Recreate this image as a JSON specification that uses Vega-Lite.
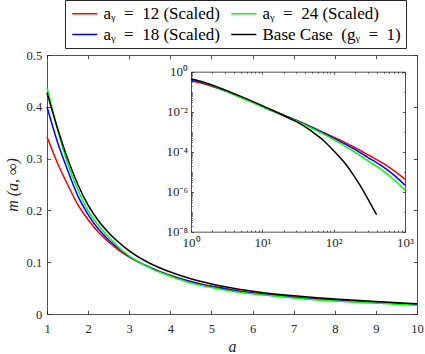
{
  "$schema": "https://vega.github.io/schema/vega-lite/v6.json",
  "width": 370,
  "height": 259,
  "autosize": {"type": "none"},
  "padding": {"left": 47, "top": 55, "right": 8, "bottom": 40},
  "config": {
    "view": {"stroke": null},
    "font": "Liberation Serif",
    "axis": {"grid": false, "domainColor": "#262626", "domainWidth": 0.8, "tickColor": "#262626", "tickWidth": 0.8, "labelColor": "#262626", "titleColor": "#262626", "labelFont": "Liberation Serif", "titleFont": "Liberation Serif", "titleFontWeight": "normal", "labelFlush": false, "labelOverlap": false}
  },
  "datasets": {
    "main": [
      {"a":1,"m":0.342,"s":"g12"},{"a":1.25,"m":0.292,"s":"g12"},{"a":1.5,"m":0.250,"s":"g12"},{"a":1.75,"m":0.211,"s":"g12"},{"a":2,"m":0.182,"s":"g12"},{"a":2.25,"m":0.158,"s":"g12"},{"a":2.5,"m":0.139,"s":"g12"},{"a":2.75,"m":0.123,"s":"g12"},{"a":3,"m":0.110,"s":"g12"},{"a":3.5,"m":0.090,"s":"g12"},{"a":4,"m":0.075,"s":"g12"},{"a":4.5,"m":0.063,"s":"g12"},{"a":5,"m":0.054,"s":"g12"},{"a":5.5,"m":0.047,"s":"g12"},{"a":6,"m":0.041,"s":"g12"},{"a":7,"m":0.033,"s":"g12"},{"a":8,"m":0.027,"s":"g12"},{"a":9,"m":0.022,"s":"g12"},{"a":10,"m":0.018,"s":"g12"},
      {"a":1,"m":0.400,"s":"g18"},{"a":1.25,"m":0.333,"s":"g18"},{"a":1.5,"m":0.278,"s":"g18"},{"a":1.75,"m":0.228,"s":"g18"},{"a":2,"m":0.192,"s":"g18"},{"a":2.25,"m":0.164,"s":"g18"},{"a":2.5,"m":0.143,"s":"g18"},{"a":2.75,"m":0.126,"s":"g18"},{"a":3,"m":0.111,"s":"g18"},{"a":3.5,"m":0.090,"s":"g18"},{"a":4,"m":0.074,"s":"g18"},{"a":4.5,"m":0.062,"s":"g18"},{"a":5,"m":0.053,"s":"g18"},{"a":5.5,"m":0.046,"s":"g18"},{"a":6,"m":0.040,"s":"g18"},{"a":7,"m":0.032,"s":"g18"},{"a":8,"m":0.026,"s":"g18"},{"a":9,"m":0.022,"s":"g18"},{"a":10,"m":0.018,"s":"g18"},
      {"a":1,"m":0.437,"s":"g24"},{"a":1.25,"m":0.358,"s":"g24"},{"a":1.5,"m":0.291,"s":"g24"},{"a":1.75,"m":0.240,"s":"g24"},{"a":2,"m":0.199,"s":"g24"},{"a":2.25,"m":0.171,"s":"g24"},{"a":2.5,"m":0.148,"s":"g24"},{"a":2.75,"m":0.128,"s":"g24"},{"a":3,"m":0.112,"s":"g24"},{"a":3.5,"m":0.089,"s":"g24"},{"a":4,"m":0.073,"s":"g24"},{"a":4.5,"m":0.060,"s":"g24"},{"a":5,"m":0.051,"s":"g24"},{"a":5.5,"m":0.044,"s":"g24"},{"a":6,"m":0.039,"s":"g24"},{"a":7,"m":0.031,"s":"g24"},{"a":8,"m":0.025,"s":"g24"},{"a":9,"m":0.021,"s":"g24"},{"a":10,"m":0.017,"s":"g24"},
      {"a":1,"m":0.427,"s":"base"},{"a":1.25,"m":0.360,"s":"base"},{"a":1.5,"m":0.300,"s":"base"},{"a":1.75,"m":0.250,"s":"base"},{"a":2,"m":0.210,"s":"base"},{"a":2.25,"m":0.180,"s":"base"},{"a":2.5,"m":0.157,"s":"base"},{"a":2.75,"m":0.138,"s":"base"},{"a":3,"m":0.122,"s":"base"},{"a":3.5,"m":0.098,"s":"base"},{"a":4,"m":0.081,"s":"base"},{"a":4.5,"m":0.068,"s":"base"},{"a":5,"m":0.058,"s":"base"},{"a":5.5,"m":0.050,"s":"base"},{"a":6,"m":0.044,"s":"base"},{"a":7,"m":0.035,"s":"base"},{"a":8,"m":0.029,"s":"base"},{"a":9,"m":0.024,"s":"base"},{"a":10,"m":0.020,"s":"base"}
    ],
    "inset": [
      {"a":1,"m":0.342,"s":"g12"},{"a":1.5,"m":0.250,"s":"g12"},{"a":2,"m":0.182,"s":"g12"},{"a":3,"m":0.110,"s":"g12"},{"a":5,"m":0.054,"s":"g12"},{"a":7,"m":0.033,"s":"g12"},{"a":10,"m":0.018,"s":"g12"},{"a":15,"m":0.0102,"s":"g12"},{"a":20,"m":0.00676,"s":"g12"},{"a":30,"m":0.00372,"s":"g12"},{"a":50,"m":0.00166,"s":"g12"},{"a":70,"m":0.000955,"s":"g12"},{"a":100,"m":0.000537,"s":"g12"},{"a":150,"m":0.000269,"s":"g12"},{"a":200,"m":0.000158,"s":"g12"},{"a":300,"m":0.0000708,"s":"g12"},{"a":500,"m":0.0000251,"s":"g12"},{"a":700,"m":0.0000112,"s":"g12"},{"a":1000,"m":0.00000417,"s":"g12"},
      {"a":1,"m":0.400,"s":"g18"},{"a":1.5,"m":0.278,"s":"g18"},{"a":2,"m":0.192,"s":"g18"},{"a":3,"m":0.111,"s":"g18"},{"a":5,"m":0.053,"s":"g18"},{"a":7,"m":0.032,"s":"g18"},{"a":10,"m":0.018,"s":"g18"},{"a":15,"m":0.0102,"s":"g18"},{"a":20,"m":0.00676,"s":"g18"},{"a":30,"m":0.00363,"s":"g18"},{"a":50,"m":0.00158,"s":"g18"},{"a":70,"m":0.000891,"s":"g18"},{"a":100,"m":0.000479,"s":"g18"},{"a":150,"m":0.000224,"s":"g18"},{"a":200,"m":0.000126,"s":"g18"},{"a":300,"m":0.0000525,"s":"g18"},{"a":500,"m":0.000017,"s":"g18"},{"a":700,"m":0.00000676,"s":"g18"},{"a":1000,"m":0.00000214,"s":"g18"},
      {"a":1,"m":0.437,"s":"g24"},{"a":1.5,"m":0.291,"s":"g24"},{"a":2,"m":0.199,"s":"g24"},{"a":3,"m":0.112,"s":"g24"},{"a":5,"m":0.051,"s":"g24"},{"a":7,"m":0.031,"s":"g24"},{"a":10,"m":0.017,"s":"g24"},{"a":15,"m":0.00964,"s":"g24"},{"a":20,"m":0.00646,"s":"g24"},{"a":30,"m":0.00347,"s":"g24"},{"a":50,"m":0.00145,"s":"g24"},{"a":70,"m":0.000794,"s":"g24"},{"a":100,"m":0.000398,"s":"g24"},{"a":150,"m":0.000174,"s":"g24"},{"a":200,"m":0.0000933,"s":"g24"},{"a":300,"m":0.0000355,"s":"g24"},{"a":500,"m":0.0000105,"s":"g24"},{"a":700,"m":0.00000398,"s":"g24"},{"a":1000,"m":0.0000012,"s":"g24"},
      {"a":1,"m":0.427,"s":"base"},{"a":1.5,"m":0.300,"s":"base"},{"a":2,"m":0.210,"s":"base"},{"a":3,"m":0.122,"s":"base"},{"a":5,"m":0.058,"s":"base"},{"a":7,"m":0.035,"s":"base"},{"a":10,"m":0.020,"s":"base"},{"a":15,"m":0.0102,"s":"base"},{"a":20,"m":0.00631,"s":"base"},{"a":30,"m":0.00316,"s":"base"},{"a":50,"m":0.001,"s":"base"},{"a":70,"m":0.000398,"s":"base"},{"a":100,"m":0.000112,"s":"base"},{"a":150,"m":0.0000224,"s":"base"},{"a":200,"m":0.00000501,"s":"base"},{"a":250,"m":0.00000141,"s":"base"},{"a":300,"m":0.000000447,"s":"base"},{"a":350,"m":0.000000166,"s":"base"},{"a":400,"m":0.0000000708,"s":"base"}
    ]
  },
  "layer": [
    {
      "data": {"name": "main"},
      "layer": [
        {
          "mark": {"type": "line", "strokeWidth": 1.5, "interpolate": "monotone"},
          "encoding": {
            "x": {"field": "a", "type": "quantitative", "scale": {"domain": [1, 10], "nice": false, "zero": false},
              "axis": {"orient": "bottom", "values": [1,2,3,4,5,6,7,8,9,10], "tickSize": -3.7, "labelPadding": 12, "labelFont": "Liberation Serif", "labelFontSize": 12.5, "title": "a", "titleFontSize": 16, "titleFontStyle": "italic", "titlePadding": 4}},
            "y": {"field": "m", "type": "quantitative", "scale": {"domain": [0, 0.5], "nice": false},
              "axis": {"orient": "left", "values": [0,0.1,0.2,0.3,0.4,0.5], "format": "~g", "tickSize": -3.7, "labelPadding": 9, "labelFont": "Liberation Serif", "labelFontSize": 12.5, "title": "m (a, ∞)", "titleFontSize": 16, "titleFontStyle": "italic", "titlePadding": 6}},
            "color": {"field": "s", "type": "nominal",
              "scale": {"domain": ["g12", "g24", "g18", "base"], "range": ["#ff0000", "#00ff00", "#0000ff", "#000000"]},
              "legend": {"orient": "none", "legendX": 18, "legendY": -55, "direction": "horizontal", "columns": 2, "title": null,
                "symbolType": "M-1,0H3", "symbolSize": 156.25, "symbolStrokeWidth": 1.5, "labelFont": "Liberation Serif", "labelFontSize": 17, "labelColor": "#000000",
                "strokeColor": "#262626", "fillColor": "#ffffff", "padding": 5, "columnPadding": 7, "rowPadding": 3, "labelOffset": 16.5, "labelLimit": 300,
                "labelExpr": "{'g12':'aᵧ\u2002=\u200212 (Scaled)','g18':'aᵧ\u2002=\u200218 (Scaled)','g24':'aᵧ\u2002=\u200224 (Scaled)','base':'Base Case\u2002(gᵧ\u2002=\u20021)'}[datum.value]"}}
          }
        },
        {
          "mark": {"type": "line", "strokeOpacity": 0},
          "encoding": {
            "x": {"field": "a", "type": "quantitative", "axis": {"orient": "top", "values": [1,2,3,4,5,6,7,8,9,10], "tickSize": -3.7, "labels": false, "title": null}},
            "y": {"field": "m", "type": "quantitative", "axis": {"orient": "right", "values": [0,0.1,0.2,0.3,0.4,0.5], "tickSize": -3.7, "labels": false, "title": null}},
            "detail": {"field": "s"}
          }
        }
      ]
    },
    {
      "data": {"name": "inset"},
      "layer": [
        {
          "mark": {"type": "line", "strokeWidth": 1.5, "interpolate": "monotone"},
          "encoding": {
            "x": {"field": "a", "type": "quantitative", "scale": {"type": "log", "domain": [1, 1000], "range": [144, 358], "nice": false},
              "axis": {"orient": "bottom", "offset": -82.3, "title": null,
                "values": [1,2,3,4,5,6,7,8,9,10,20,30,40,50,60,70,80,90,100,200,300,400,500,600,700,800,900,1000],
                "tickSize": {"condition": {"test": "indexof([1,10,100,1000], datum.value) >= 0", "value": -2.5}, "value": -1.5},
                "labelExpr": "datum.value == 1 ? '10⁰' : datum.value == 10 ? '10¹' : datum.value == 100 ? '10²' : datum.value == 1000 ? '10³' : ''",
                "labelPadding": 7, "labelFont": "Liberation Serif", "labelFontSize": 13}},
            "y": {"field": "m", "type": "quantitative", "scale": {"type": "log", "domain": [1e-8, 1], "range": [176.7, 16.7], "nice": false},
              "axis": {"orient": "left", "offset": -144, "title": null,
                "values": [1e-8,2e-8,3e-8,4e-8,5e-8,6e-8,7e-8,8e-8,9e-8,1e-7,2e-7,3e-7,4e-7,5e-7,6e-7,7e-7,8e-7,9e-7,1e-6,2e-6,3e-6,4e-6,5e-6,6e-6,7e-6,8e-6,9e-6,1e-5,2e-5,3e-5,4e-5,5e-5,6e-5,7e-5,8e-5,9e-5,1e-4,2e-4,3e-4,4e-4,5e-4,6e-4,7e-4,8e-4,9e-4,0.001,0.002,0.003,0.004,0.005,0.006,0.007,0.008,0.009,0.01,0.02,0.03,0.04,0.05,0.06,0.07,0.08,0.09,0.1,0.2,0.3,0.4,0.5,0.6,0.7,0.8,0.9,1],
                "tickSize": {"condition": {"test": "indexof([1,0.01,0.0001,0.000001,0.00000001], datum.value) >= 0", "value": -2.5}, "value": -1.2},
                "labelExpr": "datum.value == 1 ? '10⁰' : datum.value == 0.01 ? '10⁻²' : datum.value == 0.0001 ? '10⁻⁴' : datum.value == 0.000001 ? '10⁻⁶' : datum.value == 0.00000001 ? '10⁻⁸' : ''",
                "labelPadding": 6, "labelFont": "Liberation Serif", "labelFontSize": 13}},
            "color": {"field": "s", "type": "nominal", "legend": null}
          }
        },
        {
          "mark": {"type": "line", "strokeOpacity": 0},
          "encoding": {
            "x": {"field": "a", "type": "quantitative", "axis": {"orient": "top", "offset": -16.7, "title": null, "labels": false,
                "values": [1,2,3,4,5,6,7,8,9,10,20,30,40,50,60,70,80,90,100,200,300,400,500,600,700,800,900,1000],
                "tickSize": {"condition": {"test": "indexof([1,10,100,1000], datum.value) >= 0", "value": -2.5}, "value": -1.5}}},
            "y": {"field": "m", "type": "quantitative", "axis": {"orient": "right", "offset": -12, "title": null, "labels": false,
                "values": [1e-8,1e-7,1e-6,1e-5,1e-4,0.001,0.01,0.1,1],
                "tickSize": {"condition": {"test": "indexof([1,0.01,0.0001,0.000001,0.00000001], datum.value) >= 0", "value": -2.5}, "value": -1.2}}},
            "detail": {"field": "s"}
          }
        }
      ]
    }
  ],
  "resolve": {"scale": {"x": "independent", "y": "independent"}}
}
